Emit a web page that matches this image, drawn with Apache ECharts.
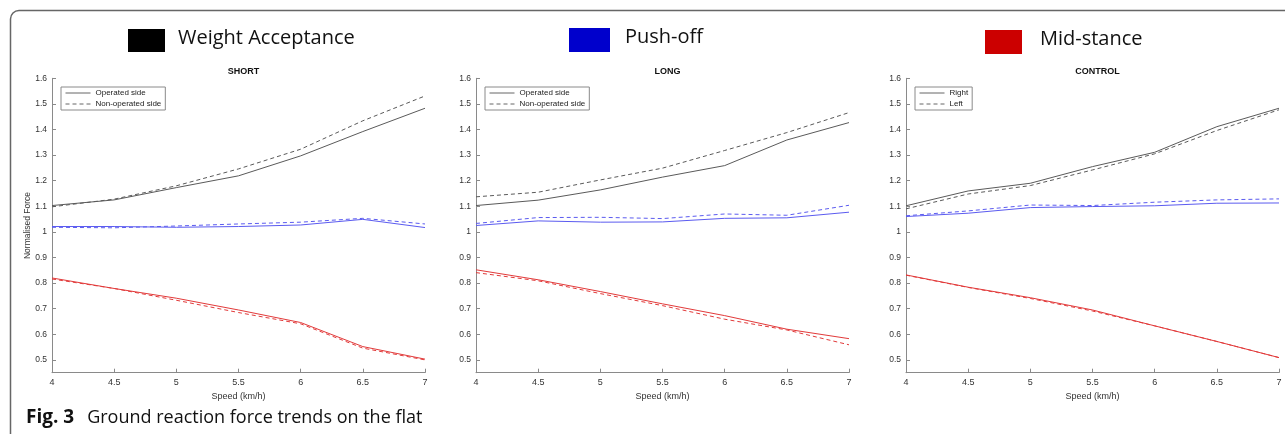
<!DOCTYPE html>
<html>
<head>
<meta charset="utf-8">
<script src="https://cdn.jsdelivr.net/npm/echarts@6/dist/echarts.min.js"></script>
<style>html,body{margin:0;padding:0;background:#fff}#c{width:1285px;height:436px}</style>
</head>
<body>
<div id="c"></div>
<script>
// ---- data ----
const speeds = [4, 4.5, 5, 5.5, 6, 6.5, 7];
const yTicks = [0.5, 0.6, 0.7, 0.8, 0.9, 1, 1.1, 1.2, 1.3, 1.4, 1.5, 1.6];
const panelTitles = ['SHORT', 'LONG', 'CONTROL'];
const phaseNames = ['Weight Acceptance', 'Push-off', 'Mid-stance'];

// SHORT
const shortWA_op  = [1.103, 1.125, 1.173, 1.219, 1.297, 1.392, 1.483];
const shortWA_non = [1.098, 1.128, 1.180, 1.246, 1.323, 1.434, 1.531];
const shortPO_op  = [1.021, 1.021, 1.018, 1.021, 1.027, 1.049, 1.017];
const shortPO_non = [1.018, 1.016, 1.023, 1.031, 1.038, 1.053, 1.031];
const shortMS_op  = [0.820, 0.779, 0.741, 0.695, 0.646, 0.552, 0.503];
const shortMS_non = [0.816, 0.779, 0.733, 0.685, 0.641, 0.546, 0.500];
// LONG
const longWA_op  = [1.103, 1.124, 1.164, 1.214, 1.259, 1.359, 1.427];
const longWA_non = [1.137, 1.155, 1.203, 1.249, 1.318, 1.388, 1.466];
const longPO_op  = [1.025, 1.043, 1.038, 1.039, 1.053, 1.055, 1.077];
const longPO_non = [1.033, 1.056, 1.057, 1.052, 1.070, 1.065, 1.104];
const longMS_op  = [0.852, 0.813, 0.767, 0.719, 0.673, 0.620, 0.583];
const longMS_non = [0.841, 0.809, 0.759, 0.712, 0.659, 0.617, 0.559];
// CONTROL
const ctrlWA_right = [1.102, 1.160, 1.190, 1.255, 1.311, 1.411, 1.483];
const ctrlWA_left  = [1.090, 1.148, 1.181, 1.242, 1.305, 1.396, 1.477];
const ctrlPO_right = [1.060, 1.073, 1.095, 1.099, 1.102, 1.112, 1.113];
const ctrlPO_left  = [1.063, 1.082, 1.105, 1.103, 1.116, 1.125, 1.129];
const ctrlMS_right = [0.832, 0.784, 0.743, 0.695, 0.633, 0.572, 0.509];
const ctrlMS_left  = [0.831, 0.783, 0.740, 0.691, 0.633, 0.572, 0.509];

// ---- styles ----
const C_WA = '#5a5a5a', C_PO = '#5b5bf0', C_MS = '#e23a3a';
const DASH = [4, 3];
const FONT = 'Liberation Sans, Arial, sans-serif';

const chart = echarts.init(document.getElementById('c'), null, {renderer: 'canvas'});

const gridLefts = [52, 476, 906];
const gridW = 373;
const gridTop = 78.3, gridH = 294.4;

const panels = [
  {legend: ['Operated side', 'Non-operated side'], sets: [
    [shortWA_op, shortWA_non, C_WA], [shortPO_op, shortPO_non, C_PO], [shortMS_op, shortMS_non, C_MS]]},
  {legend: ['Operated side', 'Non-operated side'], sets: [
    [longWA_op, longWA_non, C_WA], [longPO_op, longPO_non, C_PO], [longMS_op, longMS_non, C_MS]]},
  {legend: ['Right', 'Left'], sets: [
    [ctrlWA_right, ctrlWA_left, C_WA], [ctrlPO_right, ctrlPO_left, C_PO], [ctrlMS_right, ctrlMS_left, C_MS]]}
];

const pairs = arr => speeds.map((s, i) => [s, arr[i]]);

const grids = [], xAxes = [], yAxes = [], series = [], titles = [], legends = [];
panels.forEach((p, k) => {
  grids.push({left: gridLefts[k], top: gridTop, width: gridW, height: gridH});
  xAxes.push({
    type: 'value', gridIndex: k, min: 4, max: 7, interval: 0.5,
    name: 'Speed (km/h)', nameLocation: 'middle', nameGap: 13,
    nameTextStyle: {fontFamily: FONT, fontSize: 9, color: '#333'},
    axisLine: {show: true, lineStyle: {color: '#8a8a8a', width: 1}},
    axisTick: {show: true, inside: true, length: 4, lineStyle: {color: '#8a8a8a'}},
    axisLabel: {fontFamily: FONT, fontSize: 9, color: '#333', margin: 5},
    splitLine: {show: false}
  });
  yAxes.push({
    type: 'value', gridIndex: k, min: 0.45, max: 1.6,
    name: k === 0 ? 'Normalised Force' : '', nameLocation: 'middle', nameGap: 20,
    nameMoveOverlap: false,
    nameTextStyle: {fontFamily: FONT, fontSize: 8.5, color: '#333'},
    axisLine: {show: true, lineStyle: {color: '#8a8a8a', width: 1}},
    axisTick: {show: true, inside: true, length: 4, lineStyle: {color: '#8a8a8a'}, customValues: yTicks},
    axisLabel: {fontFamily: FONT, fontSize: 8.5, color: '#333', margin: 5, customValues: yTicks},
    splitLine: {show: false}
  });
  titles.push({
    text: panelTitles[k], left: gridLefts[k] + gridW / 2, top: 62, textAlign: 'center',
    textStyle: {fontFamily: FONT, fontSize: 9, fontWeight: 'bold', color: '#111'}
  });
  p.sets.forEach((s, j) => {
    const nameA = j === 0 ? p.legend[0] : p.legend[0] + ' ' + j;
    const nameB = j === 0 ? p.legend[1] : p.legend[1] + ' ' + j;
    series.push({
      type: 'line', name: nameA, xAxisIndex: k, yAxisIndex: k, data: pairs(s[0]),
      symbol: 'none', silent: true, animation: false,
      lineStyle: {color: s[2], width: 1, type: 'solid'}, itemStyle: {color: s[2]}
    });
    series.push({
      type: 'line', name: nameB, xAxisIndex: k, yAxisIndex: k, data: pairs(s[1]),
      symbol: 'none', silent: true, animation: false,
      lineStyle: {color: s[2], width: 1, type: DASH}, itemStyle: {color: s[2]}
    });
  });
  legends.push({
    data: p.legend, orient: 'vertical', left: gridLefts[k] + 9, top: 87,
    borderColor: '#8a8a8a', borderWidth: 1, borderRadius: 0, padding: [2, 4, 2, 4],
    itemWidth: 25, itemHeight: 8, itemGap: 3, selectedMode: false,
    itemStyle: {opacity: 0},
    lineStyle: {width: 1, color: '#666'},
    textStyle: {fontFamily: FONT, fontSize: 8, color: '#222'}
  });
});

const headerFont = '"Open Sans", "Noto Sans", sans-serif';
const graphic = [
  {type: 'line', shape: {x1: 10.5, y1: 434, x2: 10.5, y2: 19}, style: {stroke: '#666', lineWidth: 1.5}, silent: true},
  {type: 'arc', shape: {cx: 19, cy: 19, r: 8.5, startAngle: Math.PI, endAngle: Math.PI * 1.5}, style: {stroke: '#666', lineWidth: 1.5, fill: null}, silent: true},
  {type: 'line', shape: {x1: 19, y1: 10.5, x2: 1290, y2: 10.5}, style: {stroke: '#666', lineWidth: 1.5}, silent: true},
  {type: 'rect', shape: {x: 128, y: 29, width: 37, height: 23}, style: {fill: '#000'}},
  {type: 'text', x: 178, y: 38, style: {text: phaseNames[0], font: '20px ' + headerFont, fill: '#111', verticalAlign: 'middle'}},
  {type: 'rect', shape: {x: 569, y: 28, width: 41, height: 24}, style: {fill: '#0000cc'}},
  {type: 'text', x: 625, y: 37, style: {text: phaseNames[1], font: '20px ' + headerFont, fill: '#111', verticalAlign: 'middle'}},
  {type: 'rect', shape: {x: 985, y: 30, width: 37, height: 24}, style: {fill: '#cc0000'}},
  {type: 'text', x: 1040, y: 39, style: {text: phaseNames[2], font: '20px ' + headerFont, fill: '#111', verticalAlign: 'middle'}},
  {type: 'text', x: 26, y: 418, style: {
    text: '{b|Fig. 3}{g|}Ground reaction force trends on the flat', verticalAlign: 'middle',
    font: '18px ' + headerFont, fill: '#111',
    rich: {
      b: {fontFamily: headerFont, fontSize: 19, fontWeight: 'bold', fill: '#111'},
      g: {width: 13}
    }
  }}
];

chart.setOption({
  animation: false,
  backgroundColor: '#fff',
  title: titles,
  legend: legends,
  grid: grids,
  xAxis: xAxes,
  yAxis: yAxes,
  series: series,
  graphic: graphic
});
</script>
</body>
</html>
